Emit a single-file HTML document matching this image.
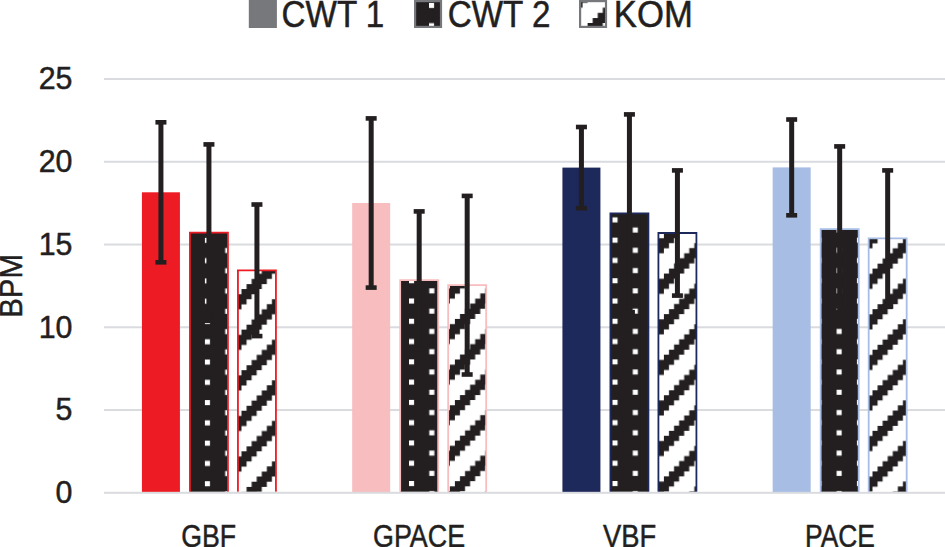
<!DOCTYPE html>
<html><head><meta charset="utf-8"><style>
html,body{margin:0;padding:0;background:#fff;width:945px;height:547px;overflow:hidden}
svg{display:block}
text{font-family:"Liberation Sans",sans-serif;fill:#231f20}
</style></head><body>
<svg width="945" height="547" viewBox="0 0 945 547">
<defs><pattern id="d0" patternUnits="userSpaceOnUse" x="204.9" y="481.2" width="40.56" height="40.56"><rect width="40.56" height="40.56" fill="#231f20"/><rect x="0" y="0" width="5.07" height="5.07" fill="#fff"/><rect x="0" y="20.28" width="5.07" height="5.07" fill="#fff"/><rect x="20.28" y="10.14" width="5.07" height="5.07" fill="#fff"/><rect x="20.28" y="30.42" width="5.07" height="5.07" fill="#fff"/></pattern><pattern id="h0" patternUnits="userSpaceOnUse" x="241.5" y="451.3" width="40.56" height="40.56"><rect width="40.56" height="40.56" fill="#fff"/><path d="M0 0h5.07v5.07h-5.07zM5.07 0h5.07v5.07h-5.07zM10.14 0h5.07v5.07h-5.07zM0 5.07h5.07v5.07h-5.07zM5.07 5.07h5.07v5.07h-5.07zM35.49 5.07h5.07v5.07h-5.07zM0 10.14h5.07v5.07h-5.07zM30.42 10.14h5.07v5.07h-5.07zM35.49 10.14h5.07v5.07h-5.07zM25.35 15.21h5.07v5.07h-5.07zM30.42 15.21h5.07v5.07h-5.07zM35.49 15.21h5.07v5.07h-5.07zM20.28 20.28h5.07v5.07h-5.07zM25.35 20.28h5.07v5.07h-5.07zM30.42 20.28h5.07v5.07h-5.07zM15.21 25.35h5.07v5.07h-5.07zM20.28 25.35h5.07v5.07h-5.07zM25.35 25.35h5.07v5.07h-5.07zM10.14 30.42h5.07v5.07h-5.07zM15.21 30.42h5.07v5.07h-5.07zM20.28 30.42h5.07v5.07h-5.07zM5.07 35.49h5.07v5.07h-5.07zM10.14 35.49h5.07v5.07h-5.07zM15.21 35.49h5.07v5.07h-5.07z" fill="#231f20"/></pattern><pattern id="d1" patternUnits="userSpaceOnUse" x="409" y="481" width="40.56" height="40.56"><rect width="40.56" height="40.56" fill="#231f20"/><rect x="0" y="0" width="5.07" height="5.07" fill="#fff"/><rect x="0" y="20.28" width="5.07" height="5.07" fill="#fff"/><rect x="20.28" y="10.14" width="5.07" height="5.07" fill="#fff"/><rect x="20.28" y="30.42" width="5.07" height="5.07" fill="#fff"/></pattern><pattern id="h1" patternUnits="userSpaceOnUse" x="454.9" y="440.6" width="40.56" height="40.56"><rect width="40.56" height="40.56" fill="#fff"/><path d="M0 0h5.07v5.07h-5.07zM5.07 0h5.07v5.07h-5.07zM10.14 0h5.07v5.07h-5.07zM0 5.07h5.07v5.07h-5.07zM5.07 5.07h5.07v5.07h-5.07zM35.49 5.07h5.07v5.07h-5.07zM0 10.14h5.07v5.07h-5.07zM30.42 10.14h5.07v5.07h-5.07zM35.49 10.14h5.07v5.07h-5.07zM25.35 15.21h5.07v5.07h-5.07zM30.42 15.21h5.07v5.07h-5.07zM35.49 15.21h5.07v5.07h-5.07zM20.28 20.28h5.07v5.07h-5.07zM25.35 20.28h5.07v5.07h-5.07zM30.42 20.28h5.07v5.07h-5.07zM15.21 25.35h5.07v5.07h-5.07zM20.28 25.35h5.07v5.07h-5.07zM25.35 25.35h5.07v5.07h-5.07zM10.14 30.42h5.07v5.07h-5.07zM15.21 30.42h5.07v5.07h-5.07zM20.28 30.42h5.07v5.07h-5.07zM5.07 35.49h5.07v5.07h-5.07zM10.14 35.49h5.07v5.07h-5.07zM15.21 35.49h5.07v5.07h-5.07z" fill="#231f20"/></pattern><pattern id="d2" patternUnits="userSpaceOnUse" x="612.5" y="481" width="40.56" height="40.56"><rect width="40.56" height="40.56" fill="#231f20"/><rect x="0" y="0" width="5.07" height="5.07" fill="#fff"/><rect x="0" y="20.28" width="5.07" height="5.07" fill="#fff"/><rect x="20.28" y="10.14" width="5.07" height="5.07" fill="#fff"/><rect x="20.28" y="30.42" width="5.07" height="5.07" fill="#fff"/></pattern><pattern id="h2" patternUnits="userSpaceOnUse" x="663.9" y="435.8" width="40.56" height="40.56"><rect width="40.56" height="40.56" fill="#fff"/><path d="M0 0h5.07v5.07h-5.07zM5.07 0h5.07v5.07h-5.07zM10.14 0h5.07v5.07h-5.07zM0 5.07h5.07v5.07h-5.07zM5.07 5.07h5.07v5.07h-5.07zM35.49 5.07h5.07v5.07h-5.07zM0 10.14h5.07v5.07h-5.07zM30.42 10.14h5.07v5.07h-5.07zM35.49 10.14h5.07v5.07h-5.07zM25.35 15.21h5.07v5.07h-5.07zM30.42 15.21h5.07v5.07h-5.07zM35.49 15.21h5.07v5.07h-5.07zM20.28 20.28h5.07v5.07h-5.07zM25.35 20.28h5.07v5.07h-5.07zM30.42 20.28h5.07v5.07h-5.07zM15.21 25.35h5.07v5.07h-5.07zM20.28 25.35h5.07v5.07h-5.07zM25.35 25.35h5.07v5.07h-5.07zM10.14 30.42h5.07v5.07h-5.07zM15.21 30.42h5.07v5.07h-5.07zM20.28 30.42h5.07v5.07h-5.07zM5.07 35.49h5.07v5.07h-5.07zM10.14 35.49h5.07v5.07h-5.07zM15.21 35.49h5.07v5.07h-5.07z" fill="#231f20"/></pattern><pattern id="d3" patternUnits="userSpaceOnUse" x="856.9" y="481" width="40.56" height="40.56"><rect width="40.56" height="40.56" fill="#231f20"/><rect x="0" y="0" width="5.07" height="5.07" fill="#fff"/><rect x="0" y="20.28" width="5.07" height="5.07" fill="#fff"/><rect x="20.28" y="10.14" width="5.07" height="5.07" fill="#fff"/><rect x="20.28" y="30.42" width="5.07" height="5.07" fill="#fff"/></pattern><pattern id="h3" patternUnits="userSpaceOnUse" x="872.5" y="471.4" width="40.56" height="40.56"><rect width="40.56" height="40.56" fill="#fff"/><path d="M0 0h5.07v5.07h-5.07zM5.07 0h5.07v5.07h-5.07zM10.14 0h5.07v5.07h-5.07zM0 5.07h5.07v5.07h-5.07zM5.07 5.07h5.07v5.07h-5.07zM35.49 5.07h5.07v5.07h-5.07zM0 10.14h5.07v5.07h-5.07zM30.42 10.14h5.07v5.07h-5.07zM35.49 10.14h5.07v5.07h-5.07zM25.35 15.21h5.07v5.07h-5.07zM30.42 15.21h5.07v5.07h-5.07zM35.49 15.21h5.07v5.07h-5.07zM20.28 20.28h5.07v5.07h-5.07zM25.35 20.28h5.07v5.07h-5.07zM30.42 20.28h5.07v5.07h-5.07zM15.21 25.35h5.07v5.07h-5.07zM20.28 25.35h5.07v5.07h-5.07zM25.35 25.35h5.07v5.07h-5.07zM10.14 30.42h5.07v5.07h-5.07zM15.21 30.42h5.07v5.07h-5.07zM20.28 30.42h5.07v5.07h-5.07zM5.07 35.49h5.07v5.07h-5.07zM10.14 35.49h5.07v5.07h-5.07zM15.21 35.49h5.07v5.07h-5.07z" fill="#231f20"/></pattern><pattern id="dl" patternUnits="userSpaceOnUse" x="429" y="2.9" width="40.56" height="40.56"><rect width="40.56" height="40.56" fill="#231f20"/><rect x="0" y="0" width="5.07" height="5.07" fill="#fff"/><rect x="0" y="20.28" width="5.07" height="5.07" fill="#fff"/><rect x="20.28" y="10.14" width="5.07" height="5.07" fill="#fff"/><rect x="20.28" y="30.42" width="5.07" height="5.07" fill="#fff"/></pattern><pattern id="hl" patternUnits="userSpaceOnUse" x="587.6" y="23" width="40.56" height="40.56"><rect width="40.56" height="40.56" fill="#fff"/><path d="M0 0h5.07v5.07h-5.07zM5.07 0h5.07v5.07h-5.07zM10.14 0h5.07v5.07h-5.07zM0 5.07h5.07v5.07h-5.07zM5.07 5.07h5.07v5.07h-5.07zM35.49 5.07h5.07v5.07h-5.07zM0 10.14h5.07v5.07h-5.07zM30.42 10.14h5.07v5.07h-5.07zM35.49 10.14h5.07v5.07h-5.07zM25.35 15.21h5.07v5.07h-5.07zM30.42 15.21h5.07v5.07h-5.07zM35.49 15.21h5.07v5.07h-5.07zM20.28 20.28h5.07v5.07h-5.07zM25.35 20.28h5.07v5.07h-5.07zM30.42 20.28h5.07v5.07h-5.07zM15.21 25.35h5.07v5.07h-5.07zM20.28 25.35h5.07v5.07h-5.07zM25.35 25.35h5.07v5.07h-5.07zM10.14 30.42h5.07v5.07h-5.07zM15.21 30.42h5.07v5.07h-5.07zM20.28 30.42h5.07v5.07h-5.07zM5.07 35.49h5.07v5.07h-5.07zM10.14 35.49h5.07v5.07h-5.07zM15.21 35.49h5.07v5.07h-5.07z" fill="#231f20"/></pattern></defs>
<rect width="945" height="547" fill="#fff"/>
<rect x="104" y="78" width="841" height="2" fill="#d9dbdf"/><rect x="104" y="160.76" width="841" height="2" fill="#d9dbdf"/><rect x="104" y="243.52" width="841" height="2" fill="#d9dbdf"/><rect x="104" y="326.28" width="841" height="2" fill="#d9dbdf"/><rect x="104" y="409.04" width="841" height="2" fill="#d9dbdf"/><rect x="141.93" y="192.3" width="38" height="300.5" fill="#ed1c24"/><rect x="189.93" y="232.6" width="38" height="259.2" fill="url(#d0)"/><path d="M189.93 491.8V232.6H227.93V491.8" fill="none" stroke="#ed1c24" stroke-width="1.8"/><rect x="237.93" y="270.3" width="38" height="221.5" fill="url(#h0)"/><path d="M237.93 491.8V270.3H275.93V491.8" fill="none" stroke="#ed1c24" stroke-width="1.8"/><rect x="352.18" y="203" width="38" height="289.8" fill="#f7bdbf"/><rect x="400.18" y="280.1" width="38" height="211.7" fill="url(#d1)"/><path d="M400.18 491.8V280.1H438.18V491.8" fill="none" stroke="#f7bdbf" stroke-width="1.8"/><rect x="448.18" y="285.2" width="38" height="206.6" fill="url(#h1)"/><path d="M448.18 491.8V285.2H486.18V491.8" fill="none" stroke="#f7bdbf" stroke-width="1.8"/><rect x="562.42" y="167.6" width="38" height="325.2" fill="#1e295b"/><rect x="610.42" y="213.3" width="38" height="278.5" fill="url(#d2)"/><path d="M610.42 491.8V213.3H648.42V491.8" fill="none" stroke="#1e295b" stroke-width="1.8"/><rect x="658.42" y="233" width="38" height="258.8" fill="url(#h2)"/><path d="M658.42 491.8V233H696.42V491.8" fill="none" stroke="#1e295b" stroke-width="1.8"/><rect x="772.67" y="167.4" width="38" height="325.4" fill="#a7bde3"/><rect x="820.67" y="229.2" width="38" height="262.6" fill="url(#d3)"/><path d="M820.67 491.8V229.2H858.67V491.8" fill="none" stroke="#a7bde3" stroke-width="1.8"/><rect x="868.67" y="238.4" width="38" height="253.4" fill="url(#h3)"/><path d="M868.67 491.8V238.4H906.67V491.8" fill="none" stroke="#a7bde3" stroke-width="1.8"/><rect x="104" y="491.8" width="841" height="2" fill="#d9dbdf"/><rect x="158.43" y="122.3" width="5" height="140" fill="#231f20"/><rect x="155.43" y="120" width="11" height="4.6" fill="#231f20"/><rect x="155.43" y="260" width="11" height="4.6" fill="#231f20"/><rect x="206.43" y="144.4" width="5" height="176.4" fill="#231f20"/><rect x="203.43" y="142.1" width="11" height="4.6" fill="#231f20"/><rect x="203.43" y="318.5" width="11" height="4.6" fill="#231f20"/><rect x="254.43" y="204.5" width="5" height="131.6" fill="#231f20"/><rect x="251.43" y="202.2" width="11" height="4.6" fill="#231f20"/><rect x="251.43" y="333.8" width="11" height="4.6" fill="#231f20"/><rect x="368.68" y="118.4" width="5" height="169.2" fill="#231f20"/><rect x="365.68" y="116.1" width="11" height="4.6" fill="#231f20"/><rect x="365.68" y="285.3" width="11" height="4.6" fill="#231f20"/><rect x="416.68" y="211.4" width="5" height="137.4" fill="#231f20"/><rect x="413.68" y="209.1" width="11" height="4.6" fill="#231f20"/><rect x="413.68" y="346.5" width="11" height="4.6" fill="#231f20"/><rect x="464.68" y="195.9" width="5" height="178.6" fill="#231f20"/><rect x="461.68" y="193.6" width="11" height="4.6" fill="#231f20"/><rect x="461.68" y="372.2" width="11" height="4.6" fill="#231f20"/><rect x="578.92" y="127" width="5" height="81.2" fill="#231f20"/><rect x="575.92" y="124.7" width="11" height="4.6" fill="#231f20"/><rect x="575.92" y="205.9" width="11" height="4.6" fill="#231f20"/><rect x="626.92" y="114.4" width="5" height="197.8" fill="#231f20"/><rect x="623.92" y="112.1" width="11" height="4.6" fill="#231f20"/><rect x="623.92" y="309.9" width="11" height="4.6" fill="#231f20"/><rect x="674.92" y="170.4" width="5" height="125.2" fill="#231f20"/><rect x="671.92" y="168.1" width="11" height="4.6" fill="#231f20"/><rect x="671.92" y="293.3" width="11" height="4.6" fill="#231f20"/><rect x="789.17" y="119.5" width="5" height="95.8" fill="#231f20"/><rect x="786.17" y="117.2" width="11" height="4.6" fill="#231f20"/><rect x="786.17" y="213" width="11" height="4.6" fill="#231f20"/><rect x="837.17" y="146.4" width="5" height="165.6" fill="#231f20"/><rect x="834.17" y="144.1" width="11" height="4.6" fill="#231f20"/><rect x="834.17" y="309.7" width="11" height="4.6" fill="#231f20"/><rect x="885.17" y="170.4" width="5" height="136" fill="#231f20"/><rect x="882.17" y="168.1" width="11" height="4.6" fill="#231f20"/><rect x="882.17" y="304.1" width="11" height="4.6" fill="#231f20"/><text transform="translate(72.4 89.45) scale(0.9640 1)" text-anchor="end" font-size="31.5" stroke="#231f20" stroke-width="0.5">25</text><text transform="translate(72.4 172.21) scale(0.9640 1)" text-anchor="end" font-size="31.5" stroke="#231f20" stroke-width="0.5">20</text><text transform="translate(72.4 254.97) scale(0.9640 1)" text-anchor="end" font-size="31.5" stroke="#231f20" stroke-width="0.5">15</text><text transform="translate(72.4 337.73) scale(0.9640 1)" text-anchor="end" font-size="31.5" stroke="#231f20" stroke-width="0.5">10</text><text transform="translate(72.4 420.49) scale(0.9640 1)" text-anchor="end" font-size="31.5" stroke="#231f20" stroke-width="0.5">5</text><text transform="translate(72.4 503.25) scale(0.9640 1)" text-anchor="end" font-size="31.5" stroke="#231f20" stroke-width="0.5">0</text><text transform="translate(181.2 547.3) scale(0.8300 1)" text-anchor="start" font-size="32.2" stroke="#231f20" stroke-width="0.5">GBF</text><text transform="translate(373 547.3) scale(0.8350 1)" text-anchor="start" font-size="32.2" stroke="#231f20" stroke-width="0.5">GPACE</text><text transform="translate(603 547.3) scale(0.8500 1)" text-anchor="start" font-size="32.2" stroke="#231f20" stroke-width="0.5">VBF</text><text transform="translate(805 547.3) scale(0.8200 1)" text-anchor="start" font-size="32.2" stroke="#231f20" stroke-width="0.5">PACE</text><text transform="translate(22.3 317.8) rotate(-90) scale(0.9200 1)" text-anchor="start" font-size="32" stroke="#231f20" stroke-width="0.5">BPM</text><rect x="248.8" y="-1" width="28.1" height="29" fill="#76787c"/><rect x="415.1" y="1.1" width="25.9" height="25.8" fill="url(#dl)" stroke="#76787c" stroke-width="2.2"/><rect x="580.1" y="1.1" width="25.9" height="25.8" fill="url(#hl)" stroke="#76787c" stroke-width="2.2"/><text transform="translate(281.6 26.8) scale(0.9170 1)" text-anchor="start" font-size="36.2" stroke="#231f20" stroke-width="0.5">CWT 1</text><text transform="translate(447.8 26.8) scale(0.9170 1)" text-anchor="start" font-size="36.2" stroke="#231f20" stroke-width="0.5">CWT 2</text><text transform="translate(613.8 26.8) scale(0.9580 1)" text-anchor="start" font-size="36.2" stroke="#231f20" stroke-width="0.5">KOM</text>
</svg>
</body></html>
